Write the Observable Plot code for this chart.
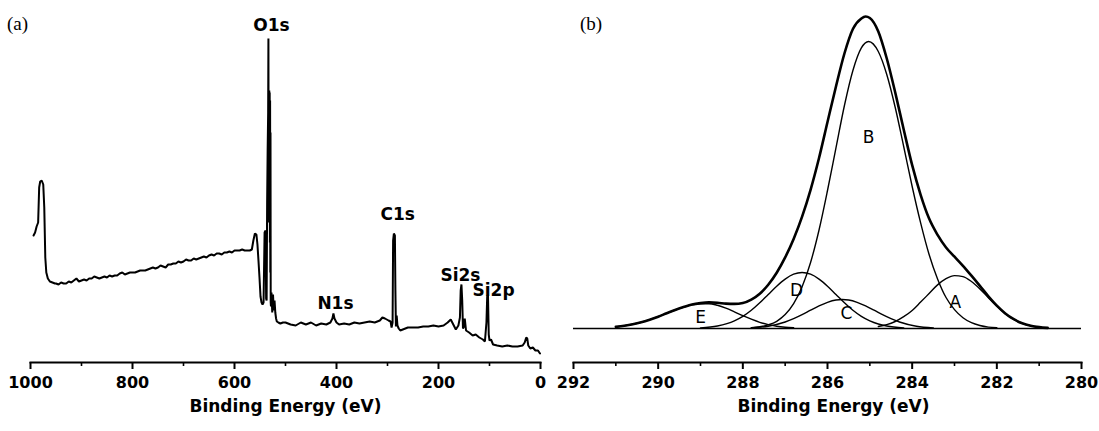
<!DOCTYPE html>
<html><head><meta charset="utf-8">
<script src="https://cdn.jsdelivr.net/npm/d3@7"></script>
<script src="https://cdn.jsdelivr.net/npm/@observablehq/plot@0.6"></script>
<style>
body{margin:0;background:#fff;}
#wrap{position:relative;width:1099px;height:431px;overflow:hidden;background:#fff;}
#wrap svg{position:absolute;left:0;top:0;}
.tag{position:absolute;font-family:"Liberation Serif","DejaVu Serif",serif;font-size:19px;color:#000;}
</style></head><body>
<div id="wrap"><div class="tag" style="left:7px;top:13px">(a)</div><div class="tag" style="left:580px;top:13px">(b)</div></div>
<script>
// ---------- Panel (a): survey spectrum (binding energy eV, intensity a.u.) ----------
const survey = [
 [994,127],[991,130],[988,136],[985,140],[983,175],[981,181],[978,182],[975,178],[973,155],[971,105],
 [969,90],[966,84],[962,81],[957,80],[952,79],[950,79],[945,78],[940,80],[935,79],[930,79],
 [925,81],[920,80],[915,82],[910,84],[905,81],[900,82],[895,83],[890,82],[885,84],[880,84],
 [875,86],[870,85],[865,84],[860,85],[855,86],[850,85],[845,87],[840,86],[835,87],[830,87],
 [825,89],[820,90],[815,88],[810,89],[805,90],[800,90],[795,90],[790,91],[785,92],[780,92],
 [775,92],[770,93],[765,94],[760,95],[755,94],[750,95],[745,97],[740,96],[735,95],[730,98],
 [725,98],[720,99],[715,99],[710,101],[705,100],[700,101],[695,103],[690,102],[685,102],[680,104],
 [675,103],[670,104],[665,105],[660,106],[655,105],[650,107],[645,108],[640,107],[635,109],[630,109],
 [625,108],[620,110],[615,110],[610,111],[605,110],[600,112],[595,112],[590,112],[585,113],[580,112],
 [575,112],[570,112],[566,113],[563,122],[560,129],[557,128],[555,118],[553,102],[551,85],[549,66],
 [547,60],[545,58],[543,60],[541,130],[539,132],[538,64],[537,62],[536,160],[535,212],[534,250],
 [533.5,324],[533,150],[532.6,272],[532.2,140],[531.8,272],[531.4,150],[531,270],[530.6,120],[530.2,262],[529.8,90],
 [529.4,230],[529,60],[528.5,56],[527.5,70],[526,50],[524.5,68],[523,52],
 [521.5,62],[520,50],[518.5,44],[517,41],[514,40],[510,39],[505,40],[500,40],[490,38],[480,37],
 [470,40],[460,38],[450,40],[440,37],[430,39],[420,38],[412,40],[408,44],[406,49],[404,44],
 [400,40],[395,38],[385,39],[375,38],[365,40],[355,39],[345,40],[335,41],[325,40],[315,42],
 [310,45],[305,44],[298,42],[294,41],[292,35],[290,40],[289,122],[287.5,129],[285.5,127],[284.5,72],
 [283.5,36],[282,47],[280.5,37],[278,34],[275,32],[270,33],[260,35],[250,35],[240,35],[230,36],
 [220,36],[210,37],[200,36],[190,37],[182,40],[176,43],[171,38],[166,33],[161,37],[158,45],
 [156.5,72],[155,78],[153.5,62],[152,34],[150,36],[148.5,44],[146,32],[140,30],[133,27],[127,28],
 [120,25],[113,23],[109,21],[106,40],[104.5,66],[103,68],[101.5,28],[100,22],[97,23],[93,18],
 [85,17],[75,16],[65,17],[55,16],[45,16],[35,17],[31,20],[28,25],[26,24],[24,17],
 [20,14],[15,15],[10,12],[5,12],[1,9]
];
const surveyLabels = ["O1s","C1s","N1s","Si2s","Si2p"];
const surveyLabelEV = [527.5,280,402,157,92];
const surveyLabelI = [337,148,59,87,72];
const ticksA = [1000,800,600,400,200,0];
const minorA = [900,700,500,300,100];

// ---------- Panel (b): C1s high-resolution fit ----------
const envelope = [
 [291.0,1.6],[290.8,2.7],[290.6,4.2],[290.4,6.2],[290.2,8.8],[290.0,11.8],[289.8,15.2],[289.6,18.5],[289.4,21.4],[289.2,24.0],
 [289.0,25.4],[288.8,26.1],[288.6,25.7],[288.4,24.9],[288.2,24.6],[288.0,25.5],[287.8,28.9],[287.6,34.8],[287.4,43.8],[287.2,55.8],
 [287.0,71.1],[286.8,89.6],[286.6,111.9],[286.4,138.7],[286.2,170.5],[286.0,206.5],[285.8,242],[285.6,275],[285.4,299.5],[285.2,310],
 [285.1,312],[285.0,310.5],[284.8,297],[284.6,270],[284.4,236],[284.2,199],[284.0,163.3],[283.8,133.7],[283.6,109.9],[283.4,93.6],[283.2,81.0],
 [283.0,71.8],[282.8,62.7],[282.6,52.8],[282.4,42.6],[282.2,32.2],[282.0,22.9],[281.8,15.1],[281.6,9.3],[281.4,5.2],[281.2,2.8],
 [281.0,1.4],[280.8,0.6]
];
const peakA = [[284.8,2],[284.6,3.8],[284.4,7],[284.2,11.8],[284.0,18],[283.8,26.4],[283.6,35],[283.4,43.6],[283.2,49.8],[283.0,52.9],
 [282.8,51.9],[282.6,47],[282.4,39.6],[282.2,30.8],[282.0,22.2],[281.8,14.8],[281.6,9.2],[281.4,5.2],[281.2,2.8],[281.0,1.4],[280.8,0.6]];
const peakB = [[287.8,0.7],[287.4,3.6],[287.2,7.2],[287.0,13.9],[286.8,24.8],[286.6,41.8],[286.4,66],[286.2,98.5],[286.0,138],[285.8,180.6],
 [285.6,223],[285.4,258],[285.2,280.6],[285.03,287],[284.8,277],[284.6,254],[284.4,221],[284.2,182],[284.0,142],[283.8,105.6],
 [283.6,74],[283.4,49.6],[283.2,31],[283.0,18.9],[282.8,10.8],[282.6,5.8],[282.4,3],[282.2,1.4],[282.0,0.7]];
const peakC = [[287.8,0.65],[287.4,2.3],[287.0,6.5],[286.8,9.8],[286.6,13.8],[286.4,18.3],[286.2,22.6],[286.0,26.2],[285.8,28.5],[285.65,29],
 [285.5,28.5],[285.3,26.2],[285.1,22.6],[284.9,18.3],[284.7,13.8],[284.5,9.8],[284.3,6.5],[283.9,2.3],[283.5,0.65]];
const peakD = [[289.0,0.6],[288.6,2.5],[288.2,7.6],[288.0,12.1],[287.8,18.2],[287.6,25.7],[287.4,34],[287.2,42.3],[287.0,49.4],[286.8,54.3],
 [286.6,56],[286.4,54.3],[286.2,49.4],[286.0,42.3],[285.8,34],[285.6,25.7],[285.4,18.2],[285.2,12.1],[285.0,7.6],[284.8,4.5],[284.6,2.5],[284.2,0.6]];
const peakE = [[291.0,1.6],[290.8,2.7],[290.6,4.2],[290.4,6.2],[290.2,8.8],[290.0,11.8],[289.8,15.2],[289.6,18.5],[289.4,21.4],[289.2,23.7],
 [289.0,24.8],[288.8,24.8],[288.6,23.2],[288.4,20.4],[288.2,16.7],[288.0,12.8],[287.8,9.3],[287.6,6.2],[287.4,3.9],[287.2,2.3],[287.0,1.3],[286.8,0.7]];
const peakNames = ["A","B","C","D","E"];
const peakLabelEV = [282.98,285.03,285.55,286.73,289.0];
const peakLabelI = [26,191,15,38,11];
const ticksB = [292,290,288,286,284,282,280];
const minorB = [291,289,287,285,283,281];

const FONT = "DejaVu Sans";
const xy = d => ({e: d[0], i: d[1]});

function bottomAxis(major, minor, titleDx) {
  return [
    Plot.frame({anchor: "bottom", strokeWidth: 2}),
    Plot.axisX({ticks: minor, tickSize: 4, strokeWidth: 1.6, tickFormat: () => "", label: null}),
    Plot.axisX({ticks: major, tickSize: 7, tickPadding: 7, strokeWidth: 2, fontSize: 16, fontWeight: "bold", tickFormat: "d", label: null, fill: "#000"}),
    Plot.text(["Binding Energy (eV)"], {frameAnchor: "bottom", dy: 49, dx: titleDx, fontSize: 17, fontWeight: "bold", fill: "#000"})
  ];
}

const plotA = Plot.plot({
  width: 1099, height: 431,
  marginLeft: 30, marginRight: 559, marginTop: 31, marginBottom: 69,
  style: {background: "transparent", fontFamily: FONT, overflow: "visible", color: "#000"},
  x: {domain: [1000, 0]},
  y: {domain: [0, 331], axis: null},
  marks: [
    ...bottomAxis(ticksA, minorA, 0),
    Plot.line(survey.map(xy), {x: "e", y: "i", stroke: "#000", strokeWidth: 2, strokeLinejoin: "miter"}),
    Plot.text(surveyLabels, {x: (d, k) => surveyLabelEV[k], y: (d, k) => surveyLabelI[k], text: d => d, fontSize: 17, fontWeight: "bold", fill: "#000"})
  ]
});

const lineOpts = w => ({x: "e", y: "i", stroke: "#000", strokeWidth: w, curve: "monotone-x"});
const plotB = Plot.plot({
  width: 1099, height: 431,
  marginLeft: 573, marginRight: 18, marginTop: 8, marginBottom: 69,
  style: {background: "transparent", fontFamily: FONT, overflow: "visible", color: "#000"},
  x: {domain: [292, 280]},
  y: {domain: [-34, 320], axis: null},
  marks: [
    ...bottomAxis(ticksB, minorB, 6),
    Plot.ruleY([0], {stroke: "#000", strokeWidth: 1.6}),
    Plot.line(peakA.map(xy), lineOpts(1.4)),
    Plot.line(peakB.map(xy), lineOpts(1.4)),
    Plot.line(peakC.map(xy), lineOpts(1.4)),
    Plot.line(peakD.map(xy), lineOpts(1.4)),
    Plot.line(peakE.map(xy), lineOpts(1.4)),
    Plot.line(envelope.map(xy), lineOpts(2.6)),
    Plot.text(peakNames, {x: (d, k) => peakLabelEV[k], y: (d, k) => peakLabelI[k], text: d => d, fontSize: 17, fill: "#000"})
  ]
});

const wrap = document.getElementById("wrap");
wrap.appendChild(plotA);
wrap.appendChild(plotB);
</script>
</body></html>
